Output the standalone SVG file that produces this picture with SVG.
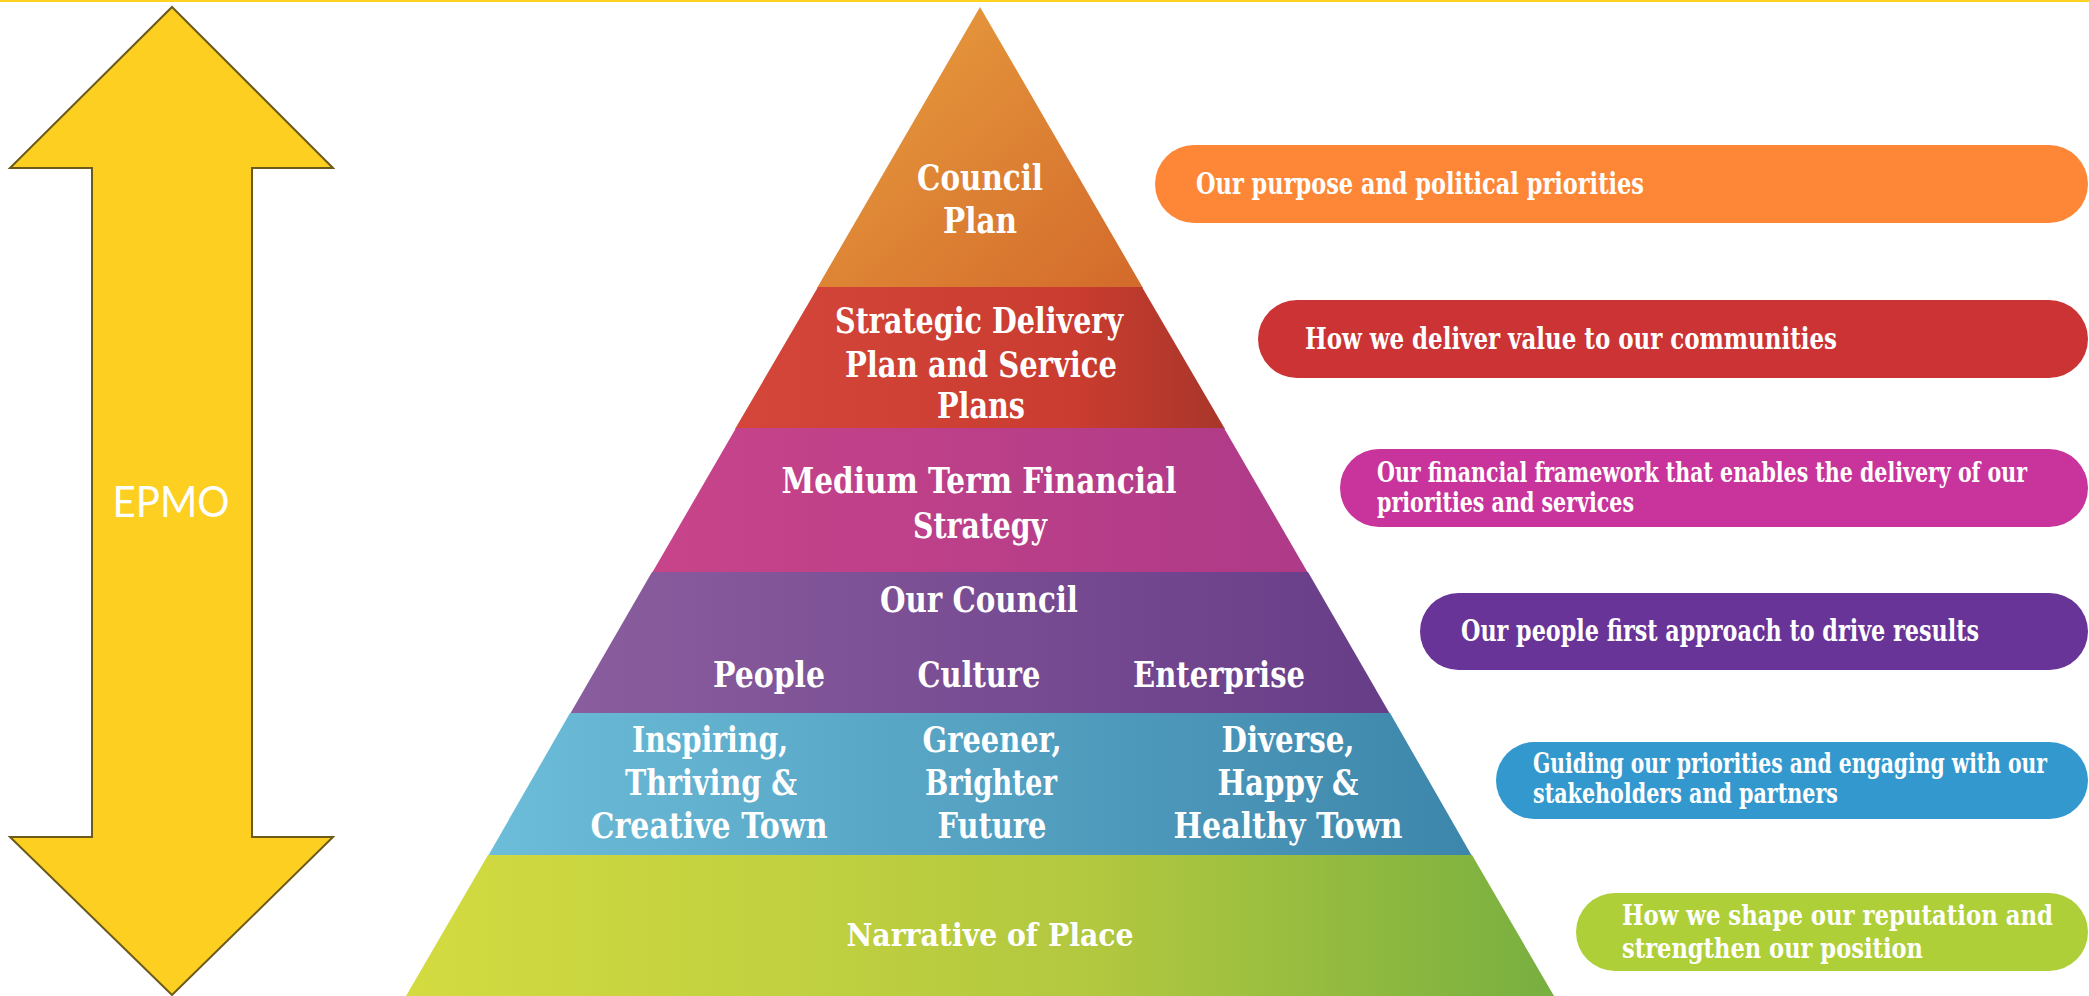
<svg xmlns="http://www.w3.org/2000/svg" width="2089" height="996" viewBox="0 0 2089 996">
  <defs>
    <linearGradient id="gOrange" x1="0" y1="0" x2="1" y2="1">
      <stop offset="0" stop-color="#E9A03F"/>
      <stop offset="1" stop-color="#D36A2B"/>
    </linearGradient>
    <linearGradient id="gRed" x1="0" y1="0" x2="1" y2="0">
      <stop offset="0" stop-color="#D4463A"/>
      <stop offset="0.7" stop-color="#C93C2F"/>
      <stop offset="1" stop-color="#A8362A"/>
    </linearGradient>
    <linearGradient id="gMagenta" x1="0" y1="0" x2="1" y2="0">
      <stop offset="0" stop-color="#C8448A"/>
      <stop offset="1" stop-color="#AE3A88"/>
    </linearGradient>
    <linearGradient id="gPurple" x1="0" y1="0" x2="1" y2="0">
      <stop offset="0" stop-color="#8A5D9E"/>
      <stop offset="1" stop-color="#683D88"/>
    </linearGradient>
    <linearGradient id="gBlue" x1="0" y1="0" x2="1" y2="0">
      <stop offset="0" stop-color="#6CBDD9"/>
      <stop offset="1" stop-color="#3D86AB"/>
    </linearGradient>
    <linearGradient id="gGreen" x1="0" y1="0" x2="1" y2="0">
      <stop offset="0" stop-color="#D3DB40"/>
      <stop offset="0.6" stop-color="#B2C83F"/>
      <stop offset="1" stop-color="#78AF40"/>
    </linearGradient>
  </defs>
  <style>
    .pt { font-family: "DejaVu Serif Condensed", "DejaVu Serif", serif; font-weight: bold; font-size: 35px; fill: #ffffff; text-anchor: middle; }
    .lt { font-family: "DejaVu Serif Condensed", "DejaVu Serif", serif; font-weight: bold; font-size: 27px; fill: #ffffff; }
    .lt2 { font-size: 29px; }
    .arrow { fill: #FDCF21; stroke: #6B5A1A; stroke-width: 2; stroke-linejoin: miter; }
    .epmo { font-family: "Lato", "Liberation Sans", sans-serif; font-size: 42px; fill: #ffffff; text-anchor: middle; }
  </style>

  <rect x="0" y="0" width="2089" height="2" fill="#FFD21F"/>

  <g id="epmo-arrow">
    <polygon class="arrow" points="172,7 333,168 252,168 252,837 333,837 172,995 10,837 92,837 92,168 10,168"/>
    <text class="epmo" x="171" y="517" textLength="117" lengthAdjust="spacingAndGlyphs">EPMO</text>
  </g>

  <g id="layer-council-plan">
    <polygon points="980,7 1143,288 817,288" fill="url(#gOrange)"/>
    <text class="pt" x="980" y="190" textLength="126" lengthAdjust="spacingAndGlyphs">Council</text>
    <text class="pt" x="980" y="233" textLength="74" lengthAdjust="spacingAndGlyphs">Plan</text>
  </g>

  <g id="layer-strategic">
    <polygon points="818,287 1142,287 1225,429 735,429" fill="url(#gRed)"/>
    <text class="pt" x="979" y="333" textLength="288" lengthAdjust="spacingAndGlyphs">Strategic Delivery</text>
    <text class="pt" x="981" y="377" textLength="272" lengthAdjust="spacingAndGlyphs">Plan and Service</text>
    <text class="pt" x="981" y="418" textLength="88" lengthAdjust="spacingAndGlyphs">Plans</text>
  </g>

  <g id="layer-mtfs">
    <polygon points="736,428 1224,428 1308,573 652,573" fill="url(#gMagenta)"/>
    <text class="pt" x="979" y="493" textLength="395" lengthAdjust="spacingAndGlyphs">Medium Term Financial</text>
    <text class="pt" x="980" y="538" textLength="134" lengthAdjust="spacingAndGlyphs">Strategy</text>
  </g>

  <g id="layer-our-council">
    <polygon points="652,572 1308,572 1390,714 570,714" fill="url(#gPurple)"/>
    <text class="pt" x="979" y="612" textLength="198" lengthAdjust="spacingAndGlyphs">Our Council</text>
    <text class="pt" x="769" y="687" textLength="112" lengthAdjust="spacingAndGlyphs">People</text>
    <text class="pt" x="979" y="687" textLength="123" lengthAdjust="spacingAndGlyphs">Culture</text>
    <text class="pt" x="1219" y="687" textLength="172" lengthAdjust="spacingAndGlyphs">Enterprise</text>
  </g>

  <g id="layer-priorities">
    <polygon points="570,713 1390,713 1472,856 488,856" fill="url(#gBlue)"/>
    <text class="pt" x="710" y="752" textLength="156" lengthAdjust="spacingAndGlyphs">Inspiring,</text>
    <text class="pt" x="711" y="795" textLength="172" lengthAdjust="spacingAndGlyphs">Thriving &amp;</text>
    <text class="pt" x="709" y="838" textLength="237" lengthAdjust="spacingAndGlyphs">Creative Town</text>
    <text class="pt" x="992" y="752" textLength="139" lengthAdjust="spacingAndGlyphs">Greener,</text>
    <text class="pt" x="991" y="795" textLength="132" lengthAdjust="spacingAndGlyphs">Brighter</text>
    <text class="pt" x="992" y="838" textLength="109" lengthAdjust="spacingAndGlyphs">Future</text>
    <text class="pt" x="1288" y="752" textLength="133" lengthAdjust="spacingAndGlyphs">Diverse,</text>
    <text class="pt" x="1288" y="795" textLength="141" lengthAdjust="spacingAndGlyphs">Happy &amp;</text>
    <text class="pt" x="1288" y="838" textLength="229" lengthAdjust="spacingAndGlyphs">Healthy Town</text>
  </g>

  <g id="layer-narrative">
    <polygon points="488,855 1472,855 1554,996 406,996" fill="url(#gGreen)"/>
    <text class="pt" x="990" y="946" style="font-size:32px" textLength="287" lengthAdjust="spacingAndGlyphs">Narrative of Place</text>
  </g>

  <g id="label-purpose">
    <rect x="1155" y="145" width="933" height="78" rx="39" fill="#FD8737"/>
    <text class="lt lt2" x="1196" y="194" textLength="448" lengthAdjust="spacingAndGlyphs">Our purpose and political priorities</text>
  </g>
  <g id="label-value">
    <rect x="1258" y="300" width="830" height="78" rx="39" fill="#CB3335"/>
    <text class="lt lt2" x="1305" y="349" textLength="532" lengthAdjust="spacingAndGlyphs">How we deliver value to our communities</text>
  </g>
  <g id="label-financial">
    <rect x="1340" y="449" width="748" height="78" rx="39" fill="#C8349B"/>
    <text class="lt" x="1377" y="482" textLength="650" lengthAdjust="spacingAndGlyphs">Our financial framework that enables the delivery of our</text>
    <text class="lt" x="1377" y="512" textLength="257" lengthAdjust="spacingAndGlyphs">priorities and services</text>
  </g>
  <g id="label-people">
    <rect x="1420" y="593" width="668" height="77" rx="38.5" fill="#693497"/>
    <text class="lt lt2" x="1461" y="641" textLength="518" lengthAdjust="spacingAndGlyphs">Our people first approach to drive results</text>
  </g>
  <g id="label-guiding">
    <rect x="1496" y="742" width="592" height="77" rx="38.5" fill="#3398CE"/>
    <text class="lt" x="1533" y="773" textLength="514" lengthAdjust="spacingAndGlyphs">Guiding our priorities and engaging with our</text>
    <text class="lt" x="1533" y="803" textLength="305" lengthAdjust="spacingAndGlyphs">stakeholders and partners</text>
  </g>
  <g id="label-reputation">
    <rect x="1576" y="893" width="512" height="78" rx="39" fill="#AECF38"/>
    <text class="lt" x="1622" y="925" textLength="431" lengthAdjust="spacingAndGlyphs">How we shape our reputation and</text>
    <text class="lt" x="1622" y="958" textLength="301" lengthAdjust="spacingAndGlyphs">strengthen our position</text>
  </g>

  <g id="connectors"></g>
</svg>
